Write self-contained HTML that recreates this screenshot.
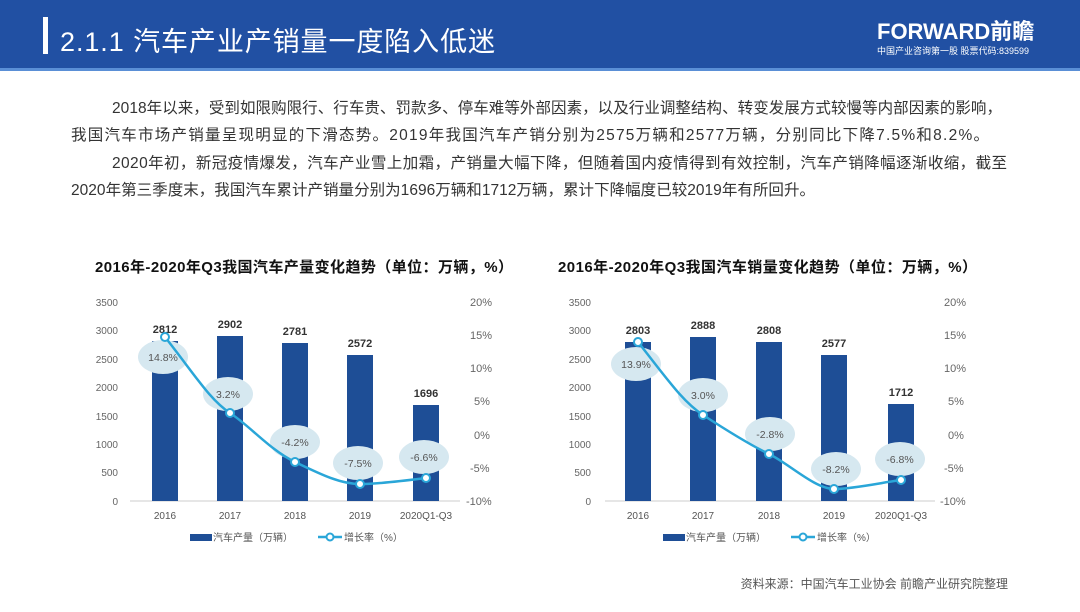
<!DOCTYPE html>
<html><head><meta charset="utf-8"><style>
body{margin:0;width:1080px;height:607px;overflow:hidden;background:#fff;font-family:"Liberation Sans","Noto Sans CJK SC",sans-serif;}
svg text{font-family:"Liberation Sans","Noto Sans CJK SC",sans-serif;}
</style></head><body>
<svg width="1080" height="607" viewBox="0 0 1080 607">
<rect x="0" y="0" width="1080" height="70" fill="#2150a3"/>
<rect x="0" y="68" width="1080" height="3" fill="#5a8fd6"/>
<rect x="43" y="17" width="5" height="37" fill="#fff"/>
<text x="60" y="51" font-size="27" fill="#fff" textLength="435" lengthAdjust="spacing">2.1.1  汽车产业产销量一度陷入低迷</text>
<text x="877" y="39" font-size="22" font-weight="bold" fill="#fff">FORWARD前瞻</text>
<text x="877" y="54" font-size="9" fill="#fff">中国产业咨询第一股  股票代码:839599</text>
<g font-size="15.5" fill="#333">
<text x="112" y="113" textLength="890" lengthAdjust="spacing">2018年以来，受到如限购限行、行车贵、罚款多、停车难等外部因素，以及行业调整结构、转变发展方式较慢等内部因素的影响，</text>
<text x="71" y="140" textLength="918" lengthAdjust="spacing">我国汽车市场产销量呈现明显的下滑态势。2019年我国汽车产销分别为2575万辆和2577万辆，分别同比下降7.5%和8.2%。</text>
<text x="112" y="168" textLength="895" lengthAdjust="spacing">2020年初，新冠疫情爆发，汽车产业雪上加霜，产销量大幅下降，但随着国内疫情得到有效控制，汽车产销降幅逐渐收缩，截至</text>
<text x="71" y="195" textLength="744" lengthAdjust="spacing">2020年第三季度末，我国汽车累计产销量分别为1696万辆和1712万辆，累计下降幅度已较2019年有所回升。</text>
</g>
<text x="95" y="272" font-size="15" font-weight="bold" fill="#111" textLength="418" lengthAdjust="spacing">2016年-2020年Q3我国汽车产量变化趋势（单位：万辆，%）</text>
<text x="558" y="272" font-size="15" font-weight="bold" fill="#111" textLength="419" lengthAdjust="spacing">2016年-2020年Q3我国汽车销量变化趋势（单位：万辆，%）</text>
<g font-size="10" fill="#666" text-anchor="end">
<text x="118" y="306">3500</text><text x="118" y="334">3000</text><text x="118" y="363">2500</text><text x="118" y="391">2000</text><text x="118" y="420">1500</text><text x="118" y="448">1000</text><text x="118" y="476">500</text><text x="118" y="505">0</text>
<text x="591" y="306">3500</text><text x="591" y="334">3000</text><text x="591" y="363">2500</text><text x="591" y="391">2000</text><text x="591" y="420">1500</text><text x="591" y="448">1000</text><text x="591" y="476">500</text><text x="591" y="505">0</text>
</g>
<g font-size="11" fill="#666">
<text x="470" y="306">20%</text><text x="470" y="339">15%</text><text x="470" y="372">10%</text><text x="474" y="405">5%</text><text x="474" y="439">0%</text><text x="470" y="472">-5%</text><text x="466" y="505">-10%</text>
<text x="944" y="306">20%</text><text x="944" y="339">15%</text><text x="944" y="372">10%</text><text x="948" y="405">5%</text><text x="948" y="439">0%</text><text x="944" y="472">-5%</text><text x="940" y="505">-10%</text>
</g>
<line x1="130" y1="501" x2="460" y2="501" stroke="#ccc"/>
<line x1="605" y1="501" x2="935" y2="501" stroke="#ccc"/>
<g fill="#1e4e96">
<rect x="152" y="341" width="26" height="160"/><rect x="217" y="336" width="26" height="165"/><rect x="282" y="343" width="26" height="158"/><rect x="347" y="355" width="26" height="146"/><rect x="413" y="405" width="26" height="96"/>
<rect x="625" y="342" width="26" height="159"/><rect x="690" y="337" width="26" height="164"/><rect x="756" y="342" width="26" height="159"/><rect x="821" y="355" width="26" height="146"/><rect x="888" y="404" width="26" height="97"/>
</g>
<g font-size="11" font-weight="bold" fill="#333" text-anchor="middle">
<text x="165" y="333">2812</text><text x="230" y="328">2902</text><text x="295" y="335">2781</text><text x="360" y="347">2572</text><text x="426" y="397">1696</text>
<text x="638" y="334">2803</text><text x="703" y="329">2888</text><text x="769" y="334">2808</text><text x="834" y="347">2577</text><text x="901" y="396">1712</text>
</g>
<g fill="#d6e8f0">
<ellipse cx="163" cy="357" rx="25" ry="17"/><ellipse cx="228" cy="394" rx="25" ry="17"/><ellipse cx="295" cy="442" rx="25" ry="17"/><ellipse cx="358" cy="463" rx="25" ry="17"/><ellipse cx="424" cy="457" rx="25" ry="17"/>
<ellipse cx="636" cy="364" rx="25" ry="17"/><ellipse cx="703" cy="395" rx="25" ry="17"/><ellipse cx="770" cy="434" rx="25" ry="17"/><ellipse cx="836" cy="469" rx="25" ry="17"/><ellipse cx="900" cy="459" rx="25" ry="17"/>
</g>
<g fill="none" stroke="#2aa6d8" stroke-width="2.5">
<path d="M165,337 C195,375 210,400 230,413 S270,450 295,462 S340,484 360,484 S410,480 426,478"/>
<path d="M638,342 C668,380 683,402 703,415 S750,445 769,454 S815,489 834,489 S885,482 901,480"/>
</g>
<g fill="#fff" stroke="#2aa6d8" stroke-width="2">
<circle cx="165" cy="337" r="4"/><circle cx="230" cy="413" r="4"/><circle cx="295" cy="462" r="4"/><circle cx="360" cy="484" r="4"/><circle cx="426" cy="478" r="4"/>
<circle cx="638" cy="342" r="4"/><circle cx="703" cy="415" r="4"/><circle cx="769" cy="454" r="4"/><circle cx="834" cy="489" r="4"/><circle cx="901" cy="480" r="4"/>
</g>
<g font-size="10.5" fill="#555" text-anchor="middle">
<text x="163" y="361">14.8%</text><text x="228" y="398">3.2%</text><text x="295" y="446">-4.2%</text><text x="358" y="467">-7.5%</text><text x="424" y="461">-6.6%</text>
<text x="636" y="368">13.9%</text><text x="703" y="399">3.0%</text><text x="770" y="438">-2.8%</text><text x="836" y="473">-8.2%</text><text x="900" y="463">-6.8%</text>
</g>
<g font-size="10" fill="#555" text-anchor="middle">
<text x="165" y="519">2016</text><text x="230" y="519">2017</text><text x="295" y="519">2018</text><text x="360" y="519">2019</text><text x="426" y="519">2020Q1-Q3</text>
<text x="638" y="519">2016</text><text x="703" y="519">2017</text><text x="769" y="519">2018</text><text x="834" y="519">2019</text><text x="901" y="519">2020Q1-Q3</text>
</g>
<g font-size="10" fill="#555">
<rect x="190" y="534" width="22" height="7" fill="#1e4e96"/><text x="213" y="541">汽车产量（万辆）</text>
<line x1="318" y1="537" x2="342" y2="537" stroke="#2aa6d8" stroke-width="2.5"/><circle cx="330" cy="537" r="3.5" fill="#fff" stroke="#2aa6d8" stroke-width="2"/><text x="344" y="541">增长率（%）</text>
<rect x="663" y="534" width="22" height="7" fill="#1e4e96"/><text x="686" y="541">汽车产量（万辆）</text>
<line x1="791" y1="537" x2="815" y2="537" stroke="#2aa6d8" stroke-width="2.5"/><circle cx="803" cy="537" r="3.5" fill="#fff" stroke="#2aa6d8" stroke-width="2"/><text x="817" y="541">增长率（%）</text>
</g>
<text x="1008" y="588" font-size="12" fill="#555" text-anchor="end">资料来源：中国汽车工业协会  前瞻产业研究院整理</text>
</svg>
</body></html>
